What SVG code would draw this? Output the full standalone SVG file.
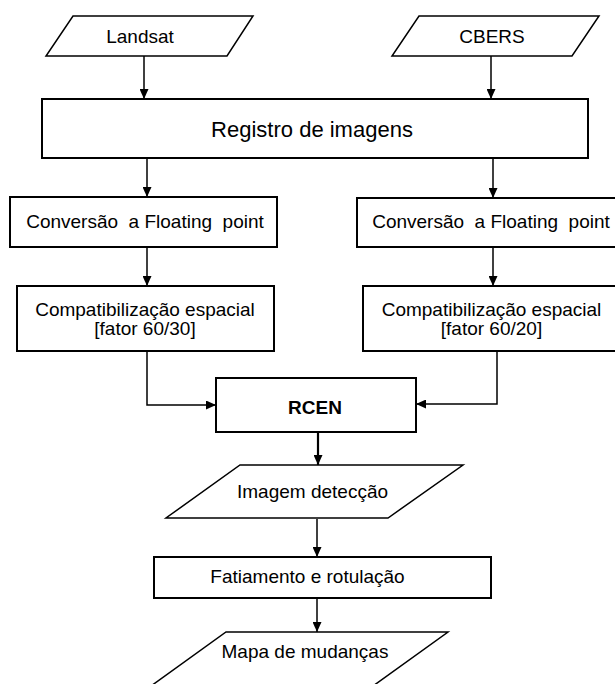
<svg xmlns="http://www.w3.org/2000/svg" width="615" height="684" viewBox="0 0 615 684">
<style>
.box{fill:#fff;stroke:#000;stroke-width:2}
.io{fill:#fff;stroke:#000;stroke-width:1.5}
.lbl{font-family:"Liberation Sans",Arial,sans-serif;font-size:19px;fill:#000;text-anchor:middle}
.big{font-size:22px}
.bold{font-weight:bold}
.con{fill:none;stroke:#000;stroke-width:1.5}
</style>
<defs>
<marker id="ah" markerUnits="userSpaceOnUse" markerWidth="10" markerHeight="9" refX="10" refY="4.5" orient="auto">
<path d="M0,0 L10,4.5 L0,9 z" fill="#000"/>
</marker>
</defs>
<rect width="615" height="684" fill="#fff"/>
<g id="connectors">
<path class="con" d="M144,56 V99" marker-end="url(#ah)"/>
<path class="con" d="M491,56 V99" marker-end="url(#ah)"/>
<path class="con" d="M147,159 V197" marker-end="url(#ah)"/>
<path class="con" d="M493,159 V198" marker-end="url(#ah)"/>
<path class="con" d="M147,247 V286" marker-end="url(#ah)"/>
<path class="con" d="M493,248 V286" marker-end="url(#ah)"/>
<path class="con" d="M147,351 V405 H216" marker-end="url(#ah)"/>
<path class="con" d="M497,351 V404 H416" marker-end="url(#ah)"/>
<path class="con" style="stroke-width:2.2" d="M318,432 V465" marker-end="url(#ah)"/>
<path class="con" d="M317,519 V557" marker-end="url(#ah)"/>
<path class="con" d="M317,599 V632" marker-end="url(#ah)"/>
</g>
<g id="landsat">
<polygon class="io" points="73,16 253,16 227,56 46,56"/>
<text class="lbl" x="140" y="43">Landsat</text>
</g>
<g id="cbers">
<polygon class="io" points="419,16 599,16 572,56 392,56"/>
<text class="lbl" x="492" y="43">CBERS</text>
</g>
<g id="registro">
<rect class="box" x="42" y="99" width="546" height="59"/>
<text class="lbl big" x="312" y="137">Registro de imagens</text>
</g>
<g id="conv-left">
<rect class="box" x="10" y="197" width="267" height="50"/>
<text class="lbl" x="145" y="228" xml:space="preserve">Conversão  a Floating  point</text>
</g>
<g id="conv-right">
<rect class="box" x="357" y="198" width="268" height="49"/>
<text class="lbl" x="491" y="228" xml:space="preserve">Conversão  a Floating  point</text>
</g>
<g id="compat-left">
<rect class="box" x="17" y="286" width="257" height="65"/>
<text class="lbl" x="145" y="316">Compatibilização espacial</text>
<text class="lbl" x="145" y="335">[fator 60/30]</text>
</g>
<g id="compat-right">
<rect class="box" x="363" y="286" width="258" height="65"/>
<text class="lbl" x="491.5" y="316">Compatibilização espacial</text>
<text class="lbl" x="491.5" y="335">[fator 60/20]</text>
</g>
<g id="rcen">
<rect class="box" x="216" y="378" width="200" height="54"/>
<text class="lbl bold" x="315" y="414">RCEN</text>
</g>
<g id="imagem">
<polygon class="io" points="240,465 463,465 388,518 166,518"/>
<text class="lbl" x="312.5" y="498">Imagem detecção</text>
</g>
<g id="fatiamento">
<rect class="box" x="154" y="557" width="337" height="41"/>
<text class="lbl" x="307.5" y="583">Fatiamento e rotulação</text>
</g>
<g id="mapa">
<polygon class="io" points="226,632 448,632 373,686 151,686"/>
<text class="lbl" x="305" y="658">Mapa de mudanças</text>
</g>
</svg>
